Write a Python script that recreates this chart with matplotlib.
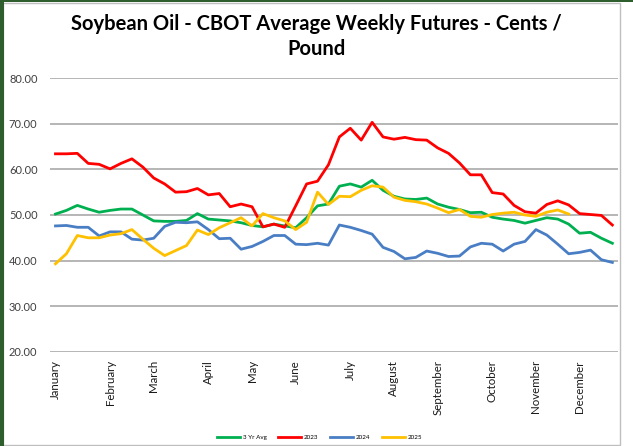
import numpy as np
import matplotlib
matplotlib.use('Agg')
import matplotlib.pyplot as plt
from matplotlib.patches import Rectangle

# weekly averages, cents / pound (52 weeks)
avg3 = [50.2, 51.0, 52.1, 51.3, 50.6, 51.0, 51.3, 51.3, 50.0, 48.7, 48.6, 48.6, 48.8,
        50.3, 49.1, 48.9, 48.7, 48.3, 47.7, 47.4, 48.0, 47.6, 47.2, 49.4, 52.0, 52.4,
        56.3, 56.8, 56.1, 57.6, 55.4, 54.1, 53.5, 53.4, 53.7, 52.4, 51.7, 51.2, 50.5,
        50.6, 49.5, 49.1, 48.8, 48.2, 48.8, 49.4, 49.1, 48.0, 46.0, 46.2, 44.9, 43.8]
y2023 = [63.4, 63.4, 63.5, 61.3, 61.1, 60.1, 61.3, 62.3, 60.5, 58.1, 56.8, 55.0, 55.1,
         55.8, 54.4, 54.7, 51.8, 52.4, 51.8, 47.4, 48.0, 47.3, 52.0, 56.8, 57.4, 61.0,
         67.1, 69.0, 66.4, 70.3, 67.1, 66.6, 67.0, 66.5, 66.4, 64.7, 63.5, 61.4, 58.8,
         58.8, 54.9, 54.6, 52.1, 50.7, 50.4, 52.3, 53.1, 52.2, 50.3, 50.1, 49.9, 47.8]
y2024 = [47.6, 47.7, 47.3, 47.3, 45.4, 46.3, 46.3, 44.7, 44.5, 44.9, 47.5, 48.4, 48.3,
         48.5, 46.8, 44.8, 44.9, 42.5, 43.1, 44.2, 45.5, 45.5, 43.6, 43.5, 43.8, 43.4,
         47.8, 47.3, 46.6, 45.8, 42.9, 42.0, 40.4, 40.7, 42.1, 41.6, 40.9, 41.0, 43.0,
         43.8, 43.6, 42.1, 43.6, 44.2, 46.8, 45.6, 43.6, 41.5, 41.8, 42.3, 40.2, 39.6]
y2025 = [39.3, 41.5, 45.5, 45.0, 45.0, 45.6, 45.9, 46.8, 44.7, 42.7, 41.1, 42.2, 43.3,
         46.7, 45.7, 47.2, 48.3, 49.4, 47.6, 50.3, 49.4, 48.7, 46.8, 48.4, 55.0, 52.3,
         54.1, 54.0, 55.4, 56.4, 56.1, 53.9, 53.2, 52.9, 52.4, 51.5, 50.5, 51.2, 49.7,
         49.5, 50.1, 50.4, 50.6, 50.0, 49.7, 50.6, 51.1, 50.2]

months = ['January', 'February', 'March', 'April', 'May', 'June', 'July',
          'August', 'September', 'October', 'November', 'December']
month_week = [0, 5, 9, 14, 18, 22, 27, 31, 35, 40, 44, 48]
yticks = [20, 30, 40, 50, 60, 70, 80]

font = ['Lato', 'DejaVu Sans']
plt.rcParams['font.family'] = font

fig = plt.figure(figsize=(6.33, 4.46), dpi=100)
ax = fig.add_axes([0.079, 0.211, 0.897, 0.614])

weeks = np.arange(52)
ax.plot(weeks, avg3, color='#00B050', lw=2.0, label='3 Yr Avg')
ax.plot(weeks, y2023, color='#FF0000', lw=2.0, label='2023')
ax.plot(weeks, y2024, color='#4A7EC4', lw=2.0, label='2024')
ax.plot(np.arange(len(y2025)), y2025, color='#FFC000', lw=2.0, label='2025')

ax.set_xlim(-0.5, 51.5)
ax.set_ylim(20, 80)
ax.set_yticks(yticks)
ax.set_yticklabels(['%.2f' % v for v in yticks], fontsize=8, color='#404040')
ax.set_xticks(month_week)
ax.set_xticklabels(months, rotation=90, fontsize=8.3, color='#1A1A1A', va='top')
ax.tick_params(axis='x', length=0, pad=6)
ax.tick_params(axis='y', length=0, pad=9)
ax.yaxis.grid(True, color='#B0B0B0', lw=1.3)
ax.set_axisbelow(True)
for s in ax.spines.values():
    s.set_visible(False)

fig.suptitle('Soybean Oil - CBOT Average Weekly Futures - Cents /\nPound',
             fontsize=14.5, fontweight='bold', y=0.969, linespacing=1.35)

fig.legend(loc='lower center', bbox_to_anchor=(0.505, 0.0), ncol=4, frameon=False,
           fontsize=4.5, handlelength=3.7, columnspacing=1.9, handletextpad=0.4)

# chart frame
fig.patches.append(Rectangle((0.004, 0.002), 0.975, 0.992, transform=fig.transFigure,
                             fill=False, ec='#BFBFBF', lw=1))
fig.patches.append(Rectangle((0, 0), 0.006, 1, transform=fig.transFigure,
                             color='#2E5E2E', lw=0))
fig.patches.append(Rectangle((0, 0.995), 1, 0.005, transform=fig.transFigure,
                             color='#2E5E2E', lw=0))

fig.savefig('out.png', dpi=100)
